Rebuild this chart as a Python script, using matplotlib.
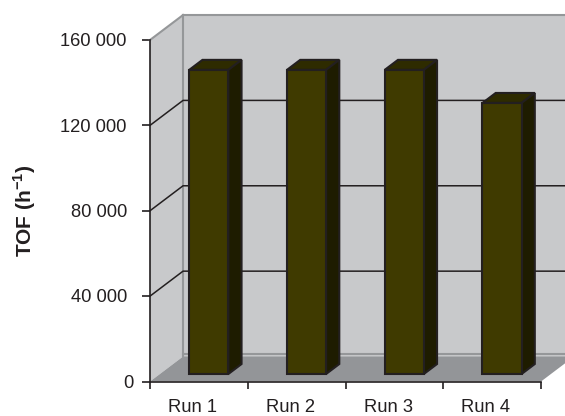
#!/usr/bin/env python3
"""Pseudo-3D column chart of TOF per catalytic run."""

import matplotlib

matplotlib.use("Agg")
import matplotlib.pyplot as plt
from matplotlib.patches import Polygon

plt.rcParams["font.family"] = ["Liberation Sans", "DejaVu Sans"]
plt.rcParams["mathtext.fontset"] = "custom"
plt.rcParams["mathtext.bf"] = "Liberation Sans:bold"

RUNS = ["Run 1", "Run 2", "Run 3", "Run 4"]
TOF = [142500, 142500, 142500, 127000]
Y_TICKS = [0, 40000, 80000, 120000, 160000]
Y_LABELS = ["0", "40 000", "80 000", "120 000", "160 000"]

INK = "#231F20"
WALL = "#C8C9CB"
FLOOR = "#939598"
WALL_EDGE = "#959799"
BAR_FRONT = "#3F3A00"
BAR_TOP = "#2E2B00"
BAR_SIDE = "#1E1C00"

# full box depth expressed in data units
DEPTH_X = 0.338
DEPTH_Y = 11700
BAR_WIDTH = 0.4


def proj(x, y, depth):
    return (x + depth * DEPTH_X, y + depth * DEPTH_Y)


def face(ax, points, color, edge=INK, lw=1.5, z=3):
    ax.add_patch(Polygon(points, closed=True, facecolor=color, edgecolor=edge,
                         linewidth=lw, joinstyle="miter", zorder=z, clip_on=False))


fig = plt.figure(figsize=(5.65, 4.16), dpi=100)
ax = fig.add_axes([150 / 565, (416 - 381.5) / 416, 391 / 565, 341.5 / 416])
ax.set_xlim(0, len(RUNS))
ax.set_ylim(0, 160000)
ax.patch.set_visible(False)

n = len(RUNS)
top = Y_TICKS[-1]

# walls and floor
face(ax, [proj(0, 0, 0), proj(0, top, 0), proj(0, top, 1), proj(0, 0, 1)], WALL, "none", 0, 1)
face(ax, [proj(0, 0, 1), proj(0, top, 1), proj(n, top, 1), proj(n, 0, 1)], WALL, "none", 0, 1)
face(ax, [proj(0, 0, 0), proj(0, 0, 1), proj(n, 0, 1), proj(n, 0, 0)], FLOOR, "none", 0, 1)

# wall outline
for a, b in [(proj(0, top, 0), proj(0, top, 1)),
             (proj(0, top, 1), proj(n, top, 1)),
             (proj(0, top, 1), proj(0, 0, 1)),
             (proj(0, 1000, 1), proj(n, 1000, 1))]:
    ax.plot([a[0], b[0]], [a[1], b[1]], color=WALL_EDGE, lw=1.5, zorder=2, clip_on=False)

# grid lines run along the left wall and across the back wall
for tick in Y_TICKS[1:-1]:
    xs, ys = zip(proj(0, tick, 0), proj(0, tick, 1), proj(n, tick, 1))
    ax.plot(xs, ys, color=INK, lw=1.1, zorder=2, clip_on=False)

# columns
for i, value in enumerate(TOF):
    x0 = i + 0.5 - BAR_WIDTH / 2
    x1 = i + 0.5 + BAR_WIDTH / 2
    face(ax, [proj(x0, value, 0.3), proj(x1, value, 0.3), proj(x1, value, 0.7), proj(x0, value, 0.7)], BAR_TOP)
    face(ax, [proj(x1, 0, 0.3), proj(x1, value, 0.3), proj(x1, value, 0.7), proj(x1, 0, 0.7)], BAR_SIDE)
    face(ax, [proj(x0, 0, 0.3), proj(x1, 0, 0.3), proj(x1, value, 0.3), proj(x0, value, 0.3)], BAR_FRONT, z=4)

for side in ("top", "right"):
    ax.spines[side].set_visible(False)
for side in ("left", "bottom"):
    ax.spines[side].set_color(INK)
    ax.spines[side].set_linewidth(1.2)
    ax.spines[side].set_zorder(5)

ax.set_yticks(Y_TICKS, [""] * len(Y_TICKS))
ax.set_xticks(range(n + 1), [""] * (n + 1))
ax.tick_params(axis="both", color=INK, width=1.2)
ax.tick_params(axis="y", length=5.8)
ax.tick_params(axis="x", length=4.7)

# value labels sit further from the axis the longer they are
for tick, label in zip(Y_TICKS, Y_LABELS):
    gap = 12 + (len(label) - 1) * 0.85
    ax.annotate(label, (0, tick), xytext=(-gap, -1.2), textcoords="offset points",
                ha="right", va="center", fontsize=13.2, color=INK, annotation_clip=False)

for i, run in enumerate(RUNS):
    ax.annotate(run, (i + 0.5, 0), xycoords=("data", "axes fraction"),
                xytext=(-4.5, -18.5), textcoords="offset points",
                ha="center", va="center", fontsize=13.2, color=INK)

fig.text(25 / 565, 1 - 211 / 416, r"TOF (h$^{\mathbf{-1}}$)", rotation=90,
         ha="center", va="center", fontsize=15, fontweight="bold", color=INK)

fig.savefig("out.png", dpi=100, facecolor="white")
plt.close(fig)
